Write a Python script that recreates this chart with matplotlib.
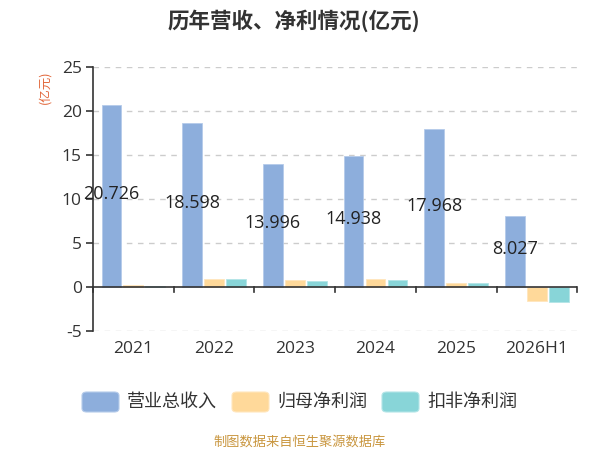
import numpy as np
import matplotlib
matplotlib.use("Agg")
import matplotlib.pyplot as plt
from matplotlib.patches import FancyBboxPatch

plt.rcParams['font.family'] = ['Noto Sans CJK SC', 'DejaVu Sans']
num_font = ['Open Sans', 'Noto Sans CJK SC']

years = ["2021", "2022", "2023", "2024", "2025", "2026H1"]
revenue = [20.726, 18.598, 13.996, 14.938, 17.968, 8.027]
net_profit = [0.2, 0.87, 0.76, 0.93, 0.50, -1.60]
deducted_profit = [0.15, 0.90, 0.72, 0.85, 0.40, -1.65]
series_names = ["营业总收入", "归母净利润", "扣非净利润"]
colors = ["#8DAEDC", "#FFD99A", "#88D5D8"]
edges = ["#B5CBEA", "#FFE6BD", "#B3E5E7"]

fig = plt.figure(figsize=(6, 4.5), dpi=100)
ax = fig.add_axes([0.155, 0.2644, 0.807, 0.5867])

x = np.arange(len(years))
w = 0.245
off = 0.272
for i, vals in enumerate([revenue, net_profit, deducted_profit]):
    ax.bar(x + (i - 1) * off, vals, width=w, color=colors[i],
           edgecolor=edges[i], linewidth=0.6, zorder=3, label=series_names[i])

for xi, v in zip(x, revenue):
    ax.text(xi - off, v / 2 + 0.25, f"{v:.3f}", ha="center", va="center",
            fontsize=13, family=num_font, color="#222222", zorder=5)

ax.set_xlim(-0.5, len(years) - 0.5)
ax.set_ylim(-5, 25)
ax.set_yticks([-5, 0, 5, 10, 15, 20, 25])
for yv in [-5, 5, 10, 15, 20, 25]:
    ax.axhline(yv, color="#CCCCCC", linestyle=(0, (4, 4)), linewidth=1, zorder=1)

# x axis line at zero with ticks at band boundaries
ax.axhline(0, color="#333333", linewidth=1.2, zorder=4)
for b in np.arange(-0.5, len(years), 1.0):
    ax.plot([b, b], [0, -0.55], color="#333333", linewidth=1.2, zorder=4, clip_on=False)

for s in ["top", "right", "bottom"]:
    ax.spines[s].set_visible(False)
ax.spines["left"].set_color("#333333")
ax.spines["left"].set_linewidth(1.2)

ax.set_xticks(x)
ax.set_xticklabels(years, family=num_font)
ax.set_yticklabels([str(t) for t in [-5, 0, 5, 10, 15, 20, 25]], family=num_font)
ax.tick_params(axis="x", length=0, pad=7, labelsize=12.5, labelcolor="#333333")
ax.tick_params(axis="y", length=5, width=1.2, color="#333333", pad=3,
               labelsize=12.5, labelcolor="#333333")

fig.text(0.075, 0.805, "(亿元)", rotation=90, ha="center", va="center",
         fontsize=9, color="#E2683C")

fig.text(0.49, 0.955, "历年营收、净利情况(亿元)", ha="center", va="center",
         fontsize=15.5, fontweight="bold", color="#333333")

fig.text(0.5, 0.018, "制图数据来自恒生聚源数据库", ha="center", va="center",
         fontsize=9.5, color="#C9963F")

# legend with rounded handles
leg_y = 402
items = [(82, series_names[0]), (232, series_names[1]), (382, series_names[2])]
for i, (lx, name) in enumerate(items):
    patch = FancyBboxPatch((lx / 600, (450 - leg_y - 10) / 450), 37 / 600, 20 / 450,
                           boxstyle="round,pad=0,rounding_size=0.008",
                           transform=fig.transFigure, facecolor=colors[i],
                           edgecolor=edges[i], linewidth=0.8)
    fig.patches.append(patch)
    fig.text((lx + 45) / 600, (450 - leg_y) / 450, name, ha="left", va="center",
             fontsize=13, color="#333333")

fig.savefig("out.png", dpi=100)
